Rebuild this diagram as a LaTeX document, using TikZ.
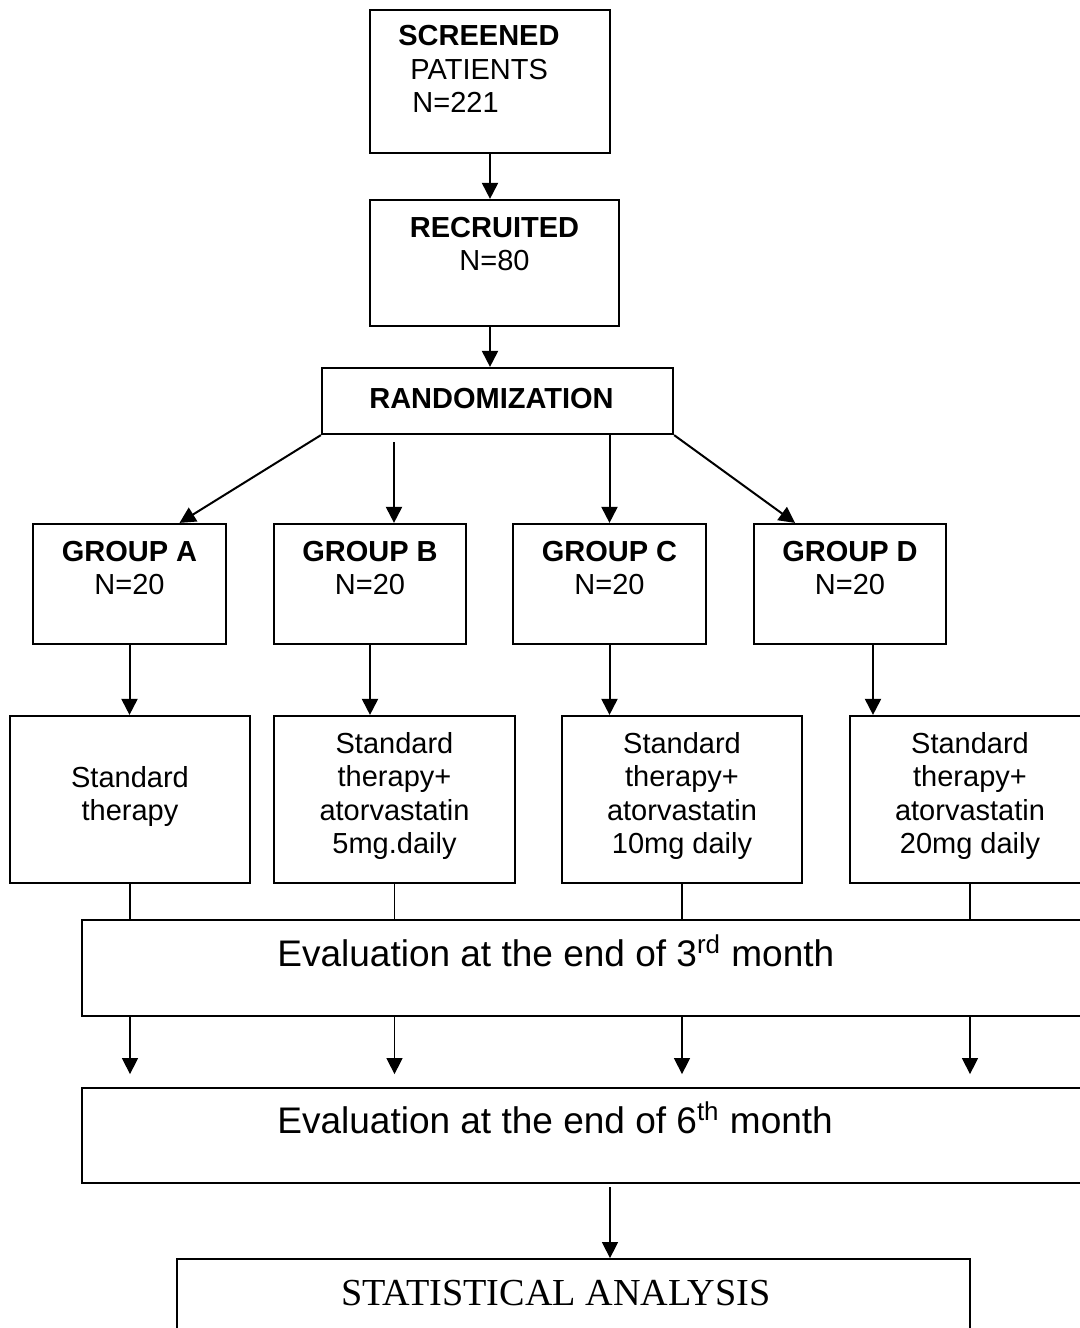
\documentclass[tikz,border=0pt]{standalone}
\usepackage{fontspec}
\setmainfont{Liberation Sans}
\newfontfamily\statfont{Liberation Serif}
\usepackage{tikz}
\usetikzlibrary{arrows.meta}
\usetikzlibrary{calc}

\newcommand{\boxfont}{\fontsize{14.5pt}{16.7pt}\selectfont}
\newcommand{\evalfont}{\fontsize{18.5pt}{22pt}\selectfont}
\newcommand{\statsize}{\fontsize{19.1pt}{22pt}\selectfont}

\begin{document}
\begin{tikzpicture}[x=0.5pt, y=-0.5pt,
  box/.style={draw, line width=1.1pt, inner sep=0pt},
  thinbox/.style={draw, line width=0.9pt, inner sep=0pt},
  txt/.style={inner sep=0pt, align=center, anchor=north, font=\boxfont},
  arr/.style={-{Triangle[length=8pt,width=8pt]}, line width=1pt},
  thinarr/.style={-{Triangle[length=8pt,width=8pt]}, line width=0.7pt}]

  \useasboundingbox (0,0) rectangle (1080,1328);
  \fill[white] (0,0) rectangle (1080,1328);

  \node[box, minimum width=120pt, minimum height=71.5pt] (scr) at (490,81.5) {};
  \node[txt, anchor=north west, align=left] (scrtxt) at (398,25) {\textbf{SCREENED}\\\hspace*{6pt}PATIENTS\\\hspace*{7pt}N=221};

  \node[box, minimum width=124.5pt, minimum height=63pt] (rec) at (494.5,263) {};
  \node[txt] (rectxt) at (494.5,216.5) {\textbf{RECRUITED}\\N=80};

  \node[box, minimum width=175.5pt, minimum height=33pt] (rnd) at (497.5,401) {};
  \node[txt] (rndtxt) at (491.5,387.5) {\textbf{RANDOMIZATION}};

  \node[box, minimum width=96.5pt, minimum height=60pt] (grpA) at (129.5,584) {};
  \node[txt] (grpAtxt) at (129.5,540.5) {\textbf{GROUP A}\\N=20};
  \node[box, minimum width=96pt, minimum height=60pt] (grpB) at (370,584) {};
  \node[txt] (grpBtxt) at (370,540.5) {\textbf{GROUP B}\\N=20};
  \node[box, minimum width=96.5pt, minimum height=60pt] (grpC) at (609.5,584) {};
  \node[txt] (grpCtxt) at (609.5,540.5) {\textbf{GROUP C}\\N=20};
  \node[box, minimum width=96pt, minimum height=60pt] (grpD) at (850,584) {};
  \node[txt] (grpDtxt) at (850,540.5) {\textbf{GROUP D}\\N=20};

  \node[box, minimum width=120pt, minimum height=83.5pt] (trtA) at (130,799.5) {};
  \node[txt] (trtAtxt) at (130,766) {Standard\\therapy};
  \node[box, minimum width=120.5pt, minimum height=83.5pt] (trtB) at (394.5,799.5) {};
  \node[txt] (trtBtxt) at (394.5,732) {Standard\\therapy+\\atorvastatin\\5mg.daily};
  \node[box, minimum width=120pt, minimum height=83.5pt] (trtC) at (682,799.5) {};
  \node[txt] (trtCtxt) at (682,732) {Standard\\therapy+\\atorvastatin\\10mg daily};
  \node[box, minimum width=120pt, minimum height=83.5pt] (trtD) at (970,799.5) {};
  \node[txt] (trtDtxt) at (970,732) {Standard\\therapy+\\atorvastatin\\20mg daily};

  \node[thinbox, minimum width=509pt, minimum height=48pt] (ev3) at (591,968) {};
  \node[anchor=base west, inner sep=0pt, font=\evalfont] (ev3txt) at (277,966) {Evaluation at the end of 3\textsuperscript{rd} month};
  \node[thinbox, minimum width=509pt, minimum height=47.5pt] (ev6) at (591,1135.5) {};
  \node[anchor=base west, inner sep=0pt, font=\evalfont] (ev6txt) at (277,1133) {Evaluation at the end of 6\textsuperscript{th} month};

  \node[thinbox, minimum width=396.5pt, minimum height=45.5pt] (stat) at (573.5,1304.5) {};
  \node[anchor=base west, inner sep=0pt, font=\statfont\statsize] (stattxt) at (341,1305) {STATISTICAL ANALYSIS};

  \draw[arr] (scr.south) -- (scr.south |- rec.north);
  \draw[arr] ($(rec.south)+(-4.5,0)$) -- ($(rec.south |- rnd.north)+(-4.5,0)$);

  \draw[arr] (rnd.south west) -- ($(grpA.north)+(50,0)$);
  \draw[arr] ($(grpB.north |- rnd.south)+(24,7)$) -- ($(grpB.north)+(24,0)$);
  \draw[arr] (grpC.north |- rnd.south) -- (grpC.north);
  \draw[arr] (rnd.south east) -- ($(grpD.north)+(-55,0)$);

  \draw[arr] (grpA.south) -- (grpA.south |- trtA.north);
  \draw[arr] (grpB.south) -- (grpB.south |- trtB.north);
  \draw[arr] (grpC.south) -- (grpC.south |- trtC.north);
  \draw[arr] ($(grpD.south)+(23,0)$) -- ($(grpD.south |- trtD.north)+(23,0)$);

  \draw[line width=0.7pt] (trtA.south) -- (trtA.south |- ev3.north);
  \draw[line width=0.7pt] (trtB.south) -- (trtB.south |- ev3.north);
  \draw[line width=0.7pt] (trtC.south) -- (trtC.south |- ev3.north);
  \draw[line width=0.7pt] (trtD.south) -- (trtD.south |- ev3.north);

  \draw[thinarr] (trtA.south |- ev3.south) -- ($(trtA.south |- ev6.north)+(0,-13)$);
  \draw[thinarr] (trtB.south |- ev3.south) -- ($(trtB.south |- ev6.north)+(0,-13)$);
  \draw[thinarr] (trtC.south |- ev3.south) -- ($(trtC.south |- ev6.north)+(0,-13)$);
  \draw[thinarr] (trtD.south |- ev3.south) -- ($(trtD.south |- ev6.north)+(0,-13)$);

  \draw[thinarr] ($(stat.north)+(36.5,-71)$) -- ($(stat.north)+(36.5,0)$);

\end{tikzpicture}
\end{document}
